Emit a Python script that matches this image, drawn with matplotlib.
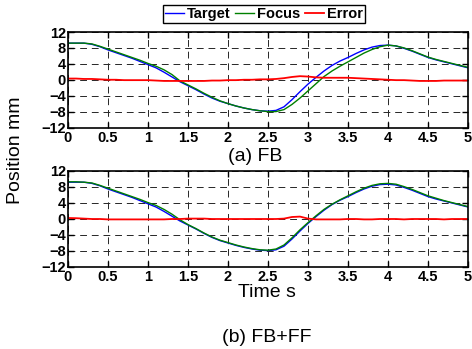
import numpy as np
import matplotlib
matplotlib.use("Agg")
import matplotlib.pyplot as plt

plt.rcParams['font.family'] = ['Liberation Sans', 'DejaVu Sans']

# sample times (s), 0.1 s steps
time_s = np.linspace(0, 5, 51)

# target position (same in both runs)
target = [9.2, 9.2, 9.2, 8.9, 8.3, 7.5, 6.8, 6.1, 5.4, 4.6,
          3.8, 3.0, 1.9, 0.7, -0.5, -1.5, -2.5, -3.6, -4.6, -5.4,
          -6.0, -6.6, -7.1, -7.5, -7.8, -7.9, -7.7, -6.8, -5.0, -3.0,
          -1.1, 0.6, 2.2, 3.6, 4.7, 5.6, 6.6, 7.5, 8.2, 8.6,
          8.7, 8.5, 7.9, 7.2, 6.4, 5.6, 5.0, 4.5, 4.0, 3.5,
          3.0]

# (a) FB
focus_fb = [9.2, 9.2, 9.2, 9.0, 8.4, 7.7, 7.0, 6.3, 5.6, 4.9,
            4.1, 3.4, 2.5, 1.3, -0.3, -1.3, -2.3, -3.4, -4.4, -5.3,
            -6.0, -6.6, -7.1, -7.5, -7.8, -8.0, -8.0, -7.5, -6.2, -4.6,
            -2.8, -1.0, 0.8, 2.2, 3.4, 4.5, 5.6, 6.7, 7.6, 8.3,
            8.7, 8.5, 8.0, 7.3, 6.5, 5.7, 5.1, 4.6, 4.1, 3.6,
            3.1]
error_fb = [0.3, 0.3, 0.2, 0.2, 0.1, 0.0, 0.0, -0.1, -0.1, -0.1,
            -0.1, -0.2, -0.3, -0.3, -0.3, -0.3, -0.3, -0.3, -0.2, -0.2,
            -0.1, -0.1, 0.0, 0.0, 0.1, 0.1, 0.2, 0.4, 0.7, 0.9,
            0.8, 0.6, 0.5, 0.5, 0.5, 0.5, 0.4, 0.3, 0.2, 0.1,
            0.0, -0.1, -0.1, -0.2, -0.3, -0.3, -0.3, -0.2, -0.2, -0.2,
            -0.2]

# (b) FB+FF
focus_ff = [9.3, 9.3, 9.2, 9.0, 8.4, 7.7, 7.0, 6.3, 5.6, 4.9,
            4.1, 3.4, 2.4, 1.2, -0.2, -1.4, -2.4, -3.5, -4.5, -5.3,
            -5.9, -6.5, -7.0, -7.4, -7.7, -7.8, -7.5, -6.5, -4.7, -2.7,
            -0.9, 0.8, 2.4, 3.7, 4.8, 5.8, 6.8, 7.7, 8.4, 8.8,
            8.9, 8.7, 8.1, 7.4, 6.6, 5.8, 5.2, 4.6, 4.1, 3.6,
            3.1]
error_ff = [0.25, 0.2, 0.1, 0.0, 0.0, -0.1, -0.1, -0.1, -0.1, -0.1,
            -0.1, -0.1, -0.1, 0.0, 0.0, 0.1, 0.1, 0.1, 0.0, 0.0,
            0.0, 0.0, 0.0, 0.0, 0.0, 0.0, 0.0, 0.1, 0.5, 0.6,
            0.1, -0.1, -0.1, -0.1, -0.1, 0.0, 0.0, -0.1, -0.1, 0.0,
            0.0, 0.0, -0.1, 0.0, 0.0, 0.0, 0.0, -0.1, 0.0, 0.0,
            0.0]

xticks = [0, 0.5, 1, 1.5, 2, 2.5, 3, 3.5, 4, 4.5, 5]
xticklabels = ["0", "0.5", "1", "1.5", "2", "2.5", "3", "3.5", "4", "4.5", "5"]
yticks = [-12, -8, -4, 0, 4, 8, 12]
yticklabels = ["\u221212", "\u22128", "\u22124", "0", "4", "8", "12"]

W, H = 472, 349
fig = plt.figure(figsize=(W / 100, H / 100), dpi=100)

def px_axes(left, top, right, bottom):
    return fig.add_axes([left / W, 1 - bottom / H, (right - left) / W, (bottom - top) / H])

ax1 = px_axes(68, 32, 468, 127.5)
ax2 = px_axes(68, 171, 468, 267)

for ax, focus, error in [(ax1, focus_fb, error_fb), (ax2, focus_ff, error_ff)]:
    ax.plot(time_s, target, color=(0, 0, 1), lw=1.0, label="Target")
    ax.plot(time_s, focus, color=(0, 0.5, 0), lw=1.0, label="Focus")
    ax.plot(time_s, error, color=(1, 0, 0), lw=1.3, label="Error")
    ax.set_xlim(0, 5)
    ax.set_ylim(-12, 12)
    ax.set_xticks(xticks)
    ax.set_xticklabels(xticklabels, fontsize=10.5, fontweight="bold")
    ax.set_yticks(yticks)
    ax.set_yticklabels(yticklabels, fontsize=10.5, fontweight="bold")
    ax.tick_params(direction="in", top=True, right=True, length=4, width=1)
    ax.tick_params(axis="x", pad=2.5)
    ax.tick_params(axis="y", pad=1.5)
    ax.grid(True, linestyle=(0, (7, 5)), linewidth=0.7, color="0.15")
    for sp in ax.spines.values():
        sp.set_linewidth(1.2)

handles, labels = ax1.get_legend_handles_labels()
fig.legend(handles, labels, loc="center", bbox_to_anchor=(264 / W, 1 - 14 / H), ncol=3,
           frameon=True, fancybox=False, edgecolor="black", framealpha=1,
           prop={"size": 10.5, "weight": "bold"}, handlelength=1.3, handletextpad=0.2,
           columnspacing=0.3, borderpad=0.15, borderaxespad=0)

fig.text(255 / W, 1 - 161 / H, "(a) FB", ha="center", va="baseline", fontsize=14)
fig.text(267 / W, 1 - 297 / H, "Time s", ha="center", va="baseline", fontsize=14)
fig.text(267 / W, 1 - 342 / H, "(b) FB+FF", ha="center", va="baseline", fontsize=14)
fig.text(16 / W, 1 - 150 / H, "Position mm", ha="center", va="center", rotation=90, fontsize=14)

fig.savefig("out.png", dpi=100)
